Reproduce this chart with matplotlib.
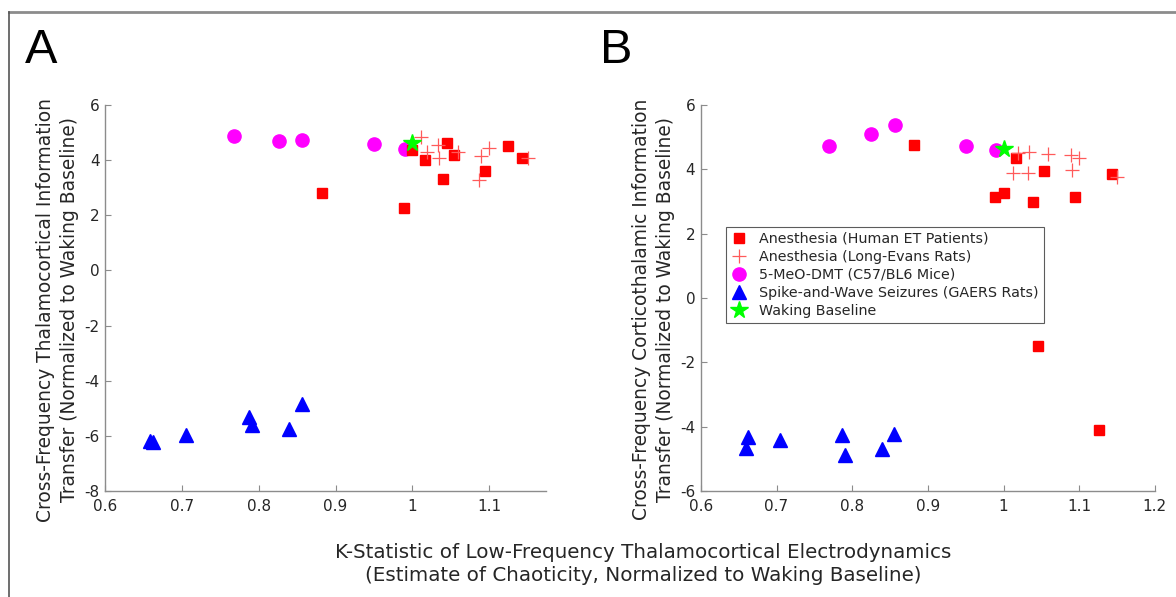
import matplotlib.pyplot as plt
from matplotlib.lines import Line2D

# ---- panel A data (thalamocortical) ----
a_human_x = [1.0, 1.017, 1.045, 1.054, 1.040, 1.095, 1.125, 1.143, 0.883, 0.989]
a_human_y = [4.37, 4.00, 4.61, 4.18, 3.31, 3.60, 4.51, 4.07, 2.79, 2.28]
a_rat_x = [1.011, 1.019, 1.033, 1.035, 1.060, 1.090, 1.100, 1.087, 1.150]
a_rat_y = [4.84, 4.28, 4.54, 4.08, 4.29, 4.16, 4.45, 3.29, 4.07]
a_dmt_x = [0.768, 0.826, 0.857, 0.950, 0.991]
a_dmt_y = [4.88, 4.71, 4.72, 4.59, 4.40]
a_swd_x = [0.659, 0.662, 0.705, 0.787, 0.791, 0.839, 0.856]
a_swd_y = [-6.17, -6.23, -5.96, -5.31, -5.59, -5.75, -4.83]

# ---- panel B data (corticothalamic) ----
b_human_x = [0.882, 1.017, 1.054, 0.989, 1.0, 1.039, 1.094, 1.143, 1.045, 1.126]
b_human_y = [4.76, 4.35, 3.94, 3.14, 3.27, 2.99, 3.15, 3.84, -1.49, -4.09]
b_rat_x = [1.012, 1.019, 1.032, 1.034, 1.059, 1.089, 1.090, 1.100, 1.150]
b_rat_y = [3.88, 4.50, 3.88, 4.54, 4.48, 4.43, 3.98, 4.36, 3.76]
b_dmt_x = [0.769, 0.825, 0.857, 0.950, 0.990]
b_dmt_y = [4.71, 5.09, 5.37, 4.73, 4.61]
b_swd_x = [0.662, 0.659, 0.705, 0.786, 0.791, 0.839, 0.855]
b_swd_y = [-4.32, -4.66, -4.43, -4.25, -4.89, -4.69, -4.23]

wake_x = [1.0]
wake_y = [4.62]

labels = ["Anesthesia (Human ET Patients)", "Anesthesia (Long-Evans Rats)",
          "5-MeO-DMT (C57/BL6 Mice)", "Spike-and-Wave Seizures (GAERS Rats)",
          "Waking Baseline"]

plt.rcParams['font.family'] = 'DejaVu Sans'
plt.rcParams['axes.unicode_minus'] = False

fig = plt.figure(figsize=(11.76, 5.97), dpi=100)
axA = fig.add_axes([0.0893, 0.1776, 0.375, 0.6466])
axB = fig.add_axes([0.596, 0.1776, 0.386, 0.6466])


def draw(ax, hx, hy, rx, ry, dx, dy, sx, sy):
    ax.plot(hx, hy, 's', color='#ff0000', ms=6.8, mec='#ff0000', label=labels[0], zorder=3)
    ax.plot(rx, ry, '+', color='#ff5a5a', ms=10, mew=0.9, label=labels[1], zorder=4)
    ax.plot(dx, dy, 'o', color='#ff00ff', ms=9.5, label=labels[2], zorder=2)
    ax.plot(sx, sy, '^', color='#0000ff', ms=10.5, label=labels[3], zorder=3)
    ax.plot(wake_x, wake_y, '*', color='#00ff00', ms=13, label=labels[4], zorder=5)
    for s in ['top', 'right']:
        ax.spines[s].set_visible(False)
    for s in ['left', 'bottom']:
        ax.spines[s].set_color('#8c8c8c')
        ax.spines[s].set_linewidth(1.0)
    ax.tick_params(direction='in', length=4, color='#8c8c8c', labelsize=11,
                   labelcolor='#262626', pad=4)
    ax.tick_params(axis='x', pad=6)


draw(axA, a_human_x, a_human_y, a_rat_x, a_rat_y, a_dmt_x, a_dmt_y, a_swd_x, a_swd_y)
draw(axB, b_human_x, b_human_y, b_rat_x, b_rat_y, b_dmt_x, b_dmt_y, b_swd_x, b_swd_y)

axA.set_xlim(0.6, 1.174)
axA.set_ylim(-8, 6)
axA.set_xticks([0.6, 0.7, 0.8, 0.9, 1.0, 1.1])
axA.set_xticklabels(['0.6', '0.7', '0.8', '0.9', '1', '1.1'])
axA.set_yticks(range(-8, 7, 2))
axA.set_ylabel("Cross-Frequency Thalamocortical Information\nTransfer (Normalized to Waking Baseline)",
               fontsize=13.4, color='#262626', linespacing=1.3)
axA.yaxis.set_label_coords(-0.06, 0.47)

axB.set_xlim(0.6, 1.2)
axB.set_ylim(-6, 6)
axB.set_xticks([0.6, 0.7, 0.8, 0.9, 1.0, 1.1, 1.2])
axB.set_xticklabels(['0.6', '0.7', '0.8', '0.9', '1', '1.1', '1.2'])
axB.set_yticks(range(-6, 7, 2))
axB.set_ylabel("Cross-Frequency Corticothalamic Information\nTransfer (Normalized to Waking Baseline)",
               fontsize=13.4, color='#262626', linespacing=1.3)
axB.yaxis.set_label_coords(-0.058, 0.47)

leg = axB.legend(loc='upper left', bbox_to_anchor=(0.055, 0.684), borderaxespad=0,
                 fontsize=10.3, frameon=True, fancybox=False, handlelength=1.2,
                 handletextpad=0.8, labelspacing=0.28, borderpad=0.35)
leg.get_frame().set_edgecolor('#333333')
leg.get_frame().set_linewidth(0.8)
for t in leg.get_texts():
    t.set_color('#262626')

fig.text(643 / 1176, 1 - 585 / 597, "K-Statistic of Low-Frequency Thalamocortical Electrodynamics\n"
         "(Estimate of Chaoticity, Normalized to Waking Baseline)",
         ha='center', va='bottom', fontsize=14.3, color='#262626', linespacing=1.3)

fig.text(25 / 1176, 1 - 63 / 597, "A", fontsize=35, family='Liberation Sans', va='baseline')
fig.text(600 / 1176, 1 - 63 / 597, "B", fontsize=35, family='Liberation Sans', va='baseline')

# outer frame (top and left only)
fig.add_artist(Line2D([9 / 1176, 1], [1 - 12 / 597, 1 - 12 / 597], transform=fig.transFigure,
                      color='#8c8c8c', lw=2))
fig.add_artist(Line2D([9 / 1176, 9 / 1176], [0, 1 - 12 / 597], transform=fig.transFigure,
                      color='#555555', lw=1.2))

fig.savefig("out.png", dpi=100)
